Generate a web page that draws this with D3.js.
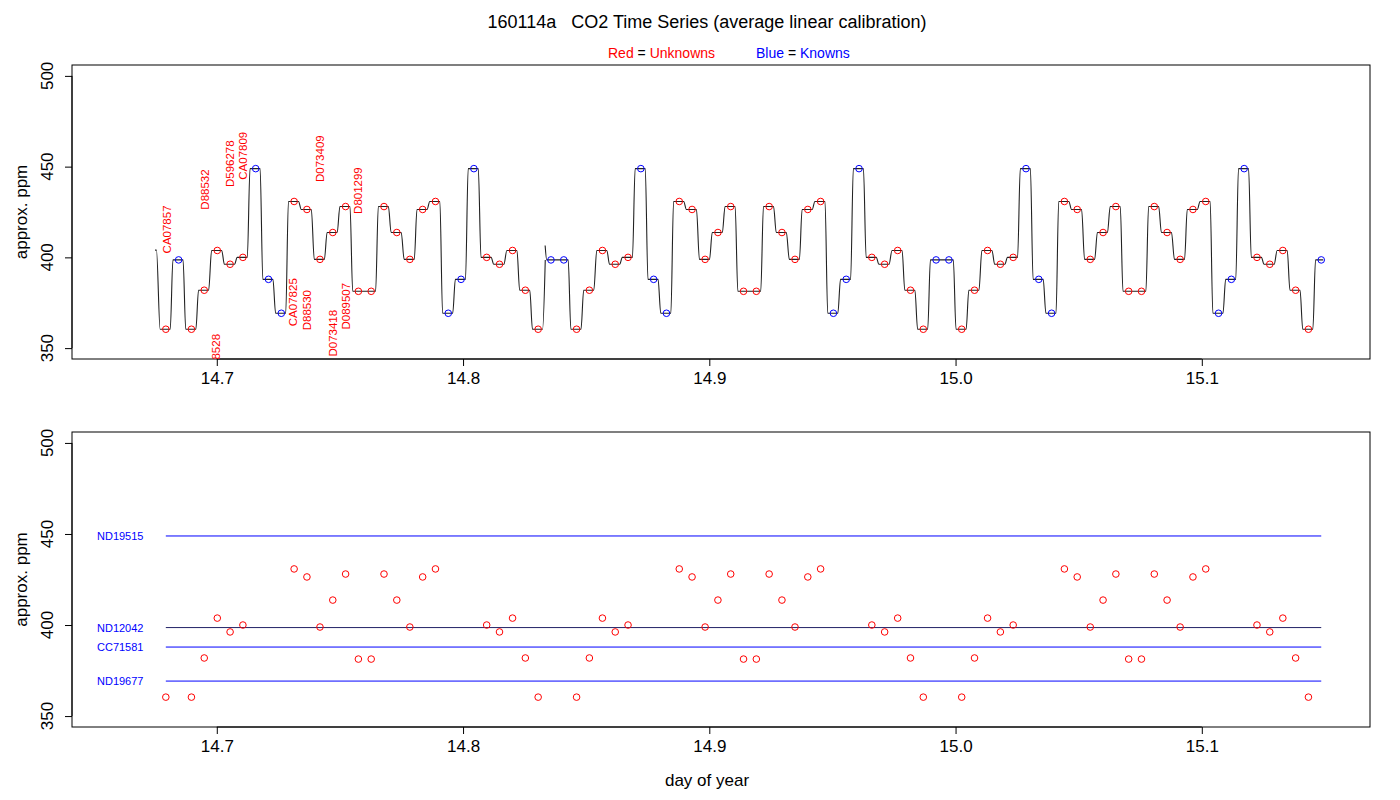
<!DOCTYPE html>
<html><head><meta charset="utf-8">
<script src="https://cdn.jsdelivr.net/npm/d3@7"></script>
<style>body{margin:0;background:#fff}svg{font-family:"Liberation Sans",Arial,sans-serif}</style>
</head><body><svg id="c" width="1400" height="800"></svg>
<script>
const times=[14.6793,14.6845,14.6897,14.6949,14.7002,14.7054,14.7106,14.7158,14.7210,14.7262,
14.7314,14.7366,14.7419,14.7471,14.7523,14.7575,14.7627,14.7679,14.7731,14.7784,
14.7836,14.7888,14.7940,14.7992,14.8044,14.8096,14.8148,14.8201,14.8253,14.8305,
14.8357,14.8409,14.8461,14.8513,14.8566,14.8618,14.8670,14.8722,14.8774,14.8826,
14.8878,14.8930,14.8983,14.9035,14.9087,14.9139,14.9191,14.9243,14.9295,14.9348,
14.9400,14.9452,14.9504,14.9556,14.9608,14.9660,14.9712,14.9765,14.9817,14.9869,
14.9921,14.9973,15.0025,15.0077,15.0130,15.0182,15.0234,15.0286,15.0338,15.0390,
15.0442,15.0494,15.0547,15.0599,15.0651,15.0703,15.0755,15.0807,15.0859,15.0912,
15.0964,15.1016,15.1068,15.1120,15.1172,15.1224,15.1276,15.1329,15.1381,15.1433,15.1485];
const values=[360.4,398.6,360.4,381.9,403.8,396.2,400.0,448.9,387.9,369.2,
430.8,426.4,398.9,413.7,428.0,381.3,381.3,428.0,413.7,398.9,
426.4,430.8,369.2,387.9,448.9,400.0,396.2,403.8,381.9,360.4,
398.6,398.6,360.4,381.9,403.8,396.2,400.0,448.9,387.9,369.2,
430.8,426.4,398.9,413.7,428.0,381.3,381.3,428.0,413.7,398.9,
426.4,430.8,369.2,387.9,448.9,400.0,396.2,403.8,381.9,360.4,
398.6,398.6,360.4,381.9,403.8,396.2,400.0,448.9,387.9,369.2,
430.8,426.4,398.9,413.7,428.0,381.3,381.3,428.0,413.7,398.9,
426.4,430.8,369.2,387.9,448.9,400.0,396.2,403.8,381.9,360.4,398.6];
const kinds="RBRRRRRBBBRRRRRRRRRRRRBBBRRRRRBBRRRRRBBBRRRRRRRRRRRRBBBRRRRRBBRRRRRBBBRRRRRRRRRRRRBBBRRRRRB".split("");
const lineStartTime=14.6749, lineStartValue=404;
const breakIndex=30, breakValue=406.5;
const labelNames=["CA07857","D88532","D596278","CA07809","D073409","D801299","CA07825","D88530","D073418","D089507","D88528"];
const labelTimes=[14.6798,14.6952,14.7054,14.7107,14.7420,14.7573,14.7310,14.7367,14.7472,14.7525,14.6997];
const labelPpm=[415.4,437.4,451.6,456.0,454.4,436.8,375.3,370.9,358.2,373.1,346.7];
const knownNames=["ND19515","ND12042","CC71581","ND19677"];
const knownValues=[448.9,398.6,387.9,369.2];
const xTicks=[14.7,14.8,14.9,15.0,15.1];
const yTicks=[350,400,450,500];

const svg=d3.select("#c");
const L=72,R=1370;
const x=d3.scaleLinear().domain([14.6412,15.1683]).range([L,R]);
const panels=[{top:65,bot:359},{top:432,bot:727}];
const ys=panels.map(p=>d3.scaleLinear().domain([344,506]).range([p.bot,p.top]));
const defs=svg.append("defs");
panels.forEach((p,i)=>{
  defs.append("clipPath").attr("id","clip"+i).append("rect").attr("x",L).attr("y",p.top).attr("width",R-L).attr("height",p.bot-p.top);
  const y=ys[i];
  svg.append("rect").attr("x",L).attr("y",p.top).attr("width",R-L).attr("height",p.bot-p.top).attr("fill","none").attr("stroke","#000");
  const xa=svg.append("g").attr("transform",`translate(0,${p.bot})`).call(d3.axisBottom(x).tickValues(xTicks).tickFormat(d3.format(".1f")).tickSize(7).tickPadding(6));
  xa.select(".domain").attr("d",`M${x(14.7)},0H${x(15.1)}`);
  xa.selectAll("text").attr("font-size",17).attr("font-family","Liberation Sans, Arial");
  const ya=svg.append("g").attr("transform",`translate(${L},0)`).call(d3.axisLeft(y).tickValues(yTicks).tickSize(7).tickFormat(d=>""));
  ya.select(".domain").attr("d",`M0,${y(350)}V${y(500)}`);
  yTicks.forEach(t=>svg.append("text").attr("transform",`translate(53,${y(t)}) rotate(-90)`).attr("text-anchor","middle").attr("font-size",17).text(t));
  svg.append("text").attr("transform",`translate(27,${(p.top+p.bot)/2}) rotate(-90)`).attr("text-anchor","middle").attr("font-size",17).text("approx. ppm");
});
svg.append("text").attr("x",707).attr("y",28).attr("text-anchor","middle").attr("font-size",18).attr("xml:space","preserve").text("160114a   CO2 Time Series (average linear calibration)");
const sub=svg.append("text").attr("y",58).attr("font-size",14);
sub.append("tspan").attr("x",608).attr("fill","red").text("Red ");
sub.append("tspan").attr("fill","#000").text("= ");
sub.append("tspan").attr("fill","red").text("Unknowns");
sub.append("tspan").attr("x",756).attr("fill","blue").text("Blue ");
sub.append("tspan").attr("fill","#000").text("= ");
sub.append("tspan").attr("fill","blue").text("Knowns");
svg.append("text").attr("x",707).attr("y",786).attr("text-anchor","middle").attr("font-size",17).text("day of year");

const step=0.00521, w=0.0011;
function plateau(i,v){return [[times[i]-0.55*step+w/2,v],[times[i]+0.45*step-w/2,v]];}
let seg1=[[lineStartTime,lineStartValue],[lineStartTime+0.0006,lineStartValue]];
for(let i=0;i<breakIndex;i++) seg1=seg1.concat(plateau(i,values[i]));
seg1.push([times[breakIndex]-0.55*step+w/2,values[breakIndex]]);
let seg2=[[times[breakIndex]-0.55*step+0.0005,breakValue]];
for(let i=breakIndex;i<times.length;i++){const p=plateau(i,values[i]); if(i===breakIndex)p[0][0]+=0.0006; seg2=seg2.concat(p);}
seg2[seg2.length-1][0]=times[times.length-1]+0.0008;
const y0=ys[0];
const tl=svg.append("g").attr("clip-path","url(#clip0)");
[seg1,seg2].forEach(s=>tl.append("path").attr("d",d3.line().x(d=>x(d[0])).y(d=>y0(d[1])).curve(d3.curveMonotoneX)(s)).attr("fill","none").attr("stroke","#222").attr("stroke-width",1.1));
times.forEach((t,i)=>tl.append("circle").attr("cx",x(t)).attr("cy",y0(values[i])).attr("r",3.3).attr("fill","none").attr("stroke",kinds[i]==="R"?"red":"blue").attr("stroke-width",1));
labelNames.forEach((n,i)=>tl.append("text").attr("transform",`translate(${x(labelTimes[i])+4},${y0(labelPpm[i])}) rotate(-90)`).attr("text-anchor","middle").attr("font-size",11.5).attr("fill","red").text(n));

const y1=ys[1];
const bl=svg.append("g").attr("clip-path","url(#clip1)");
knownValues.forEach((v,i)=>{
  bl.append("line").attr("x1",x(times[0])).attr("x2",x(times[times.length-1])).attr("y1",y1(v)).attr("y2",y1(v))
    .attr("stroke",i===1?"#222266":(i===3?"#6f6fff":"blue")).attr("stroke-width",i===3?1.6:1);
  svg.append("text").attr("x",97).attr("y",y1(v)+4).attr("font-size",11).attr("fill","blue").text(knownNames[i]);
});
times.forEach((t,i)=>{ if(kinds[i]==="R") bl.append("circle").attr("cx",x(t)).attr("cy",y1(values[i])).attr("r",3.3).attr("fill","none").attr("stroke","red").attr("stroke-width",1);});
</script></body></html>
